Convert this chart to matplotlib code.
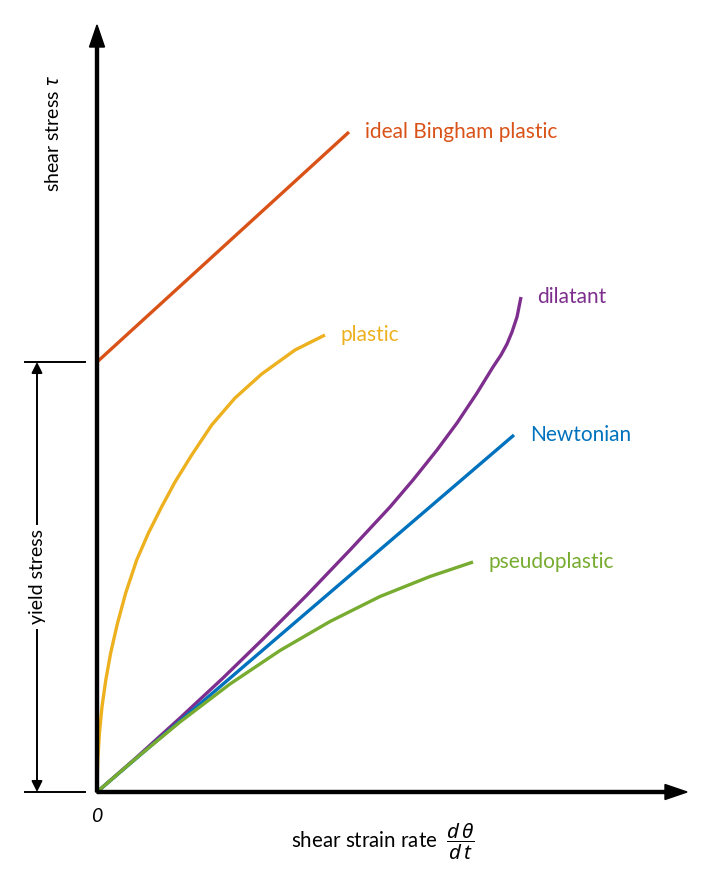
import matplotlib
matplotlib.use("Agg")
import matplotlib.pyplot as plt

plt.rcParams['font.family'] = ['Lato', 'DejaVu Sans']
plt.rcParams['mathtext.fontset'] = 'custom'
plt.rcParams['mathtext.rm'] = 'Lato'
plt.rcParams['mathtext.it'] = 'Noto Sans:italic'

# curves (shear rate, shear stress), arbitrary units
bingham_x = [0, 252]
bingham_y = [430, 660]

plastic_x = [0, 0.15, 0.8, 2.4, 5.0, 8.8, 13.6, 20.3, 28.6, 39.7, 51.3, 64.7, 78,
             94.7, 114.7, 138, 164.7, 198, 228]
plastic_y = [0, 12, 32, 58.7, 85.3, 112, 138.7, 168, 198.7, 232, 258.7, 285.3, 310,
             337, 367, 394, 418, 442, 457]

dilatant_x = [0, 40, 83, 126, 166, 210, 253, 293, 316, 340, 360, 380, 396, 404, 410,
              415, 420, 424]
dilatant_y = [0, 35, 74, 114, 153, 197, 242, 285, 312, 342, 369, 399, 425, 437, 448,
              460, 475, 495]

newtonian_x = [0, 417]
newtonian_y = [0, 357]

pseudo_x = [0, 40, 83, 133, 183, 233, 283, 333, 376]
pseudo_y = [0, 34.5, 70, 108, 141.5, 170.5, 195.5, 215.5, 230]

yield_stress = 430

curves = [
    (bingham_x, bingham_y, "#D95319", "ideal Bingham plastic"),
    (plastic_x, plastic_y, "#EDB120", "plastic"),
    (dilatant_x, dilatant_y, "#7E2F8E", "dilatant"),
    (newtonian_x, newtonian_y, "#0072BD", "Newtonian"),
    (pseudo_x, pseudo_y, "#77AC30", "pseudoplastic"),
]

fig = plt.figure(figsize=(7.12, 8.94), dpi=100)
ax = fig.add_axes([0, 0, 1, 1])
ax.set_xlim(-97, 615)
ax.set_ylim(-102, 792)
ax.axis('off')

for xs, ys, color, label in curves:
    ax.plot(xs, ys, color=color, lw=2.4, solid_capstyle='butt',
            solid_joinstyle='round', zorder=2)
    ax.annotate(label, xy=(xs[-1], ys[-1]), xytext=(16, 0), textcoords='offset pixels',
                color=color, fontsize=15, ha='left', va='center')

# axes with arrow heads
ax.arrow(0, 0, 0, 767, width=3, head_width=15, head_length=22,
         length_includes_head=True, color='black', zorder=3)
ax.arrow(0, 0, 590, 0, width=3, head_width=15, head_length=22,
         length_includes_head=True, color='black', zorder=3)

# yield stress marker
ax.plot([-72, -12], [yield_stress, yield_stress], color='black', lw=1.4)
ax.plot([-72, -12], [0, 0], color='black', lw=1.4)
ax.annotate("", xy=(-60, yield_stress), xytext=(-60, 0),
            arrowprops=dict(arrowstyle='<|-|>', color='black', lw=1.4,
                            mutation_scale=16, shrinkA=0, shrinkB=0))
ax.text(-60, 215, "yield stress", rotation=90, fontsize=14, ha='center', va='center',
        bbox=dict(facecolor='white', edgecolor='none', pad=3))

ax.text(-44, 659, r"shear stress $\tau$", rotation=90, fontsize=14, ha='center', va='center')
ax.text(0, -24, "0", fontsize=14, style='italic', ha='center', va='center')
ax.text(286, -50, r"shear strain rate  $\dfrac{d\,\theta}{d\,t}$", fontsize=14.8,
        ha='center', va='center')

fig.savefig("out.png", dpi=100)
